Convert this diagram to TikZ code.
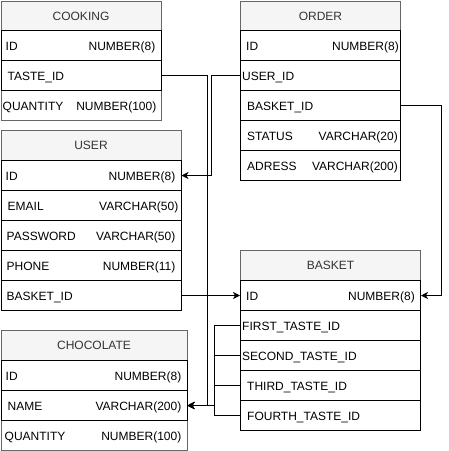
\documentclass[tikz,border=0pt]{standalone}
\usepackage{fontspec}
\setmainfont{Liberation Sans}
\usetikzlibrary{arrows.meta}
\definecolor{hdrfill}{HTML}{F5F5F5}
\definecolor{hdrtext}{HTML}{333333}
\definecolor{framegray}{HTML}{666666}
\tikzset{
  every node/.style={font=\fontsize{12pt}{14pt}\selectfont},
  hdr/.style={draw=framegray, fill=hdrfill, text=hdrtext, minimum height=30pt,
    anchor=north west, inner sep=0pt, line width=1pt},
  rowbox/.style={draw=black, fill=white, minimum height=30pt, anchor=north west,
    inner sep=0pt, line width=1pt},
  lastrow/.style={rowbox, draw=framegray},
  ltxt/.style={anchor=base west, inner sep=0pt, text=black},
  rtxt/.style={anchor=base east, inner sep=0pt, text=black},
  link/.style={draw=black, line width=1pt, -{Stealth[length=7pt,width=7pt,inset=2pt]}},
}
% name, x, y, width, style, left offset, left text, right offset, right text
\newcommand\dbrow[9]{%
  \node[#5, minimum width=#4pt] (#1) at (#2,#3) {};
  \node[ltxt] at ([xshift=#6pt,yshift=-4.5pt]#1.west) {#7};
  \if\relax\detokenize{#9}\relax\else
    \node[rtxt] at ([xshift=-#8pt,yshift=-4.5pt]#1.east) {#9};
  \fi
}
\begin{document}
\begin{tikzpicture}[x=1pt, y=-1pt]
\useasboundingbox (0,0) rectangle (449,451);

% COOKING
\node[hdr, minimum width=160pt] (cook) at (0.5,0.5) {COOKING};
\dbrow{cook-qty}{0.5}{90}{160}{lastrow}{2}{QUANTITY}{5}{NUMBER(100)}
\dbrow{cook-id}{0.5}{30}{160}{rowbox}{5}{ID}{6}{NUMBER(8)}
\dbrow{cook-taste}{0.5}{60}{160}{rowbox}{7}{TASTE\_ID}{6}{}

% ORDER
\node[hdr, minimum width=160pt] (order) at (240,0.5) {ORDER};
\dbrow{order-id}{240}{30}{160}{rowbox}{6}{ID}{2}{NUMBER(8)}
\dbrow{order-user}{240}{60}{160}{rowbox}{2}{USER\_ID}{3}{}
\dbrow{order-basket}{240}{90}{160}{rowbox}{7}{BASKET\_ID}{3}{}
\dbrow{order-status}{240}{120}{160}{rowbox}{7}{STATUS}{3}{VARCHAR(20)}
\dbrow{order-adress}{240}{150}{160}{rowbox}{7}{ADRESS}{3}{VARCHAR(200)}

% USER
\node[hdr, minimum width=180pt] (user) at (0.5,130) {USER};
\dbrow{user-id}{0.5}{160}{180}{rowbox}{5}{ID}{6}{NUMBER(8)}
\dbrow{user-email}{0.5}{190}{180}{rowbox}{7}{EMAIL}{3}{VARCHAR(50)}
\dbrow{user-pass}{0.5}{220}{180}{rowbox}{6}{PASSWORD}{6}{VARCHAR(50)}
\dbrow{user-phone}{0.5}{250}{180}{rowbox}{6}{PHONE}{6}{NUMBER(11)}
\dbrow{user-basket}{0.5}{280}{180}{rowbox}{6}{BASKET\_ID}{6}{}

% CHOCOLATE
\node[hdr, minimum width=186pt] (choc) at (0.5,330) {CHOCOLATE};
\dbrow{choc-qty}{0.5}{420}{186}{lastrow}{4}{QUANTITY}{6}{NUMBER(100)}
\dbrow{choc-id}{0.5}{360}{186}{rowbox}{5}{ID}{6}{NUMBER(8)}
\dbrow{choc-name}{0.5}{390}{186}{rowbox}{7}{NAME}{6}{VARCHAR(200)}

% BASKET
\node[hdr, minimum width=180pt] (basket) at (240,250) {BASKET};
\dbrow{basket-id}{240}{280}{180}{rowbox}{6}{ID}{6}{NUMBER(8)}
\dbrow{basket-first}{240}{310}{180}{rowbox}{2}{FIRST\_TASTE\_ID}{6}{}
\dbrow{basket-second}{240}{340}{180}{rowbox}{2}{SECOND\_TASTE\_ID}{6}{}
\dbrow{basket-third}{240}{370}{180}{rowbox}{7}{THIRD\_TASTE\_ID}{6}{}
\dbrow{basket-fourth}{240}{400}{180}{rowbox}{7}{FOURTH\_TASTE\_ID}{6}{}

% bend coordinates
\coordinate (bx1) at (207,0);
\coordinate (bx2) at (211,0);
\coordinate (bx3) at (441,0);
\coordinate (bx4) at (214,0);

% connectors
\draw[link] (cook-taste.east) -- (cook-taste.east -| bx1) |- (choc-name.east);
\draw[link] (order-user.west) -- (order-user.west -| bx2) |- (user-id.east);
\draw[link] (order-basket.east) -- (order-basket.east -| bx3) |- (basket-id.east);
\draw[link] (user-basket.east) -- (basket-id.west);
\draw[link] (basket-first.west) -- (basket-first.west -| bx4) |- (choc-name.east);
\draw[link] (basket-second.west) -- (basket-second.west -| bx4) |- (choc-name.east);
\draw[link] (basket-third.west) -- (basket-third.west -| bx4) |- (choc-name.east);
\draw[link] (basket-fourth.west) -- (basket-fourth.west -| bx4) |- (choc-name.east);
\end{tikzpicture}
\end{document}
